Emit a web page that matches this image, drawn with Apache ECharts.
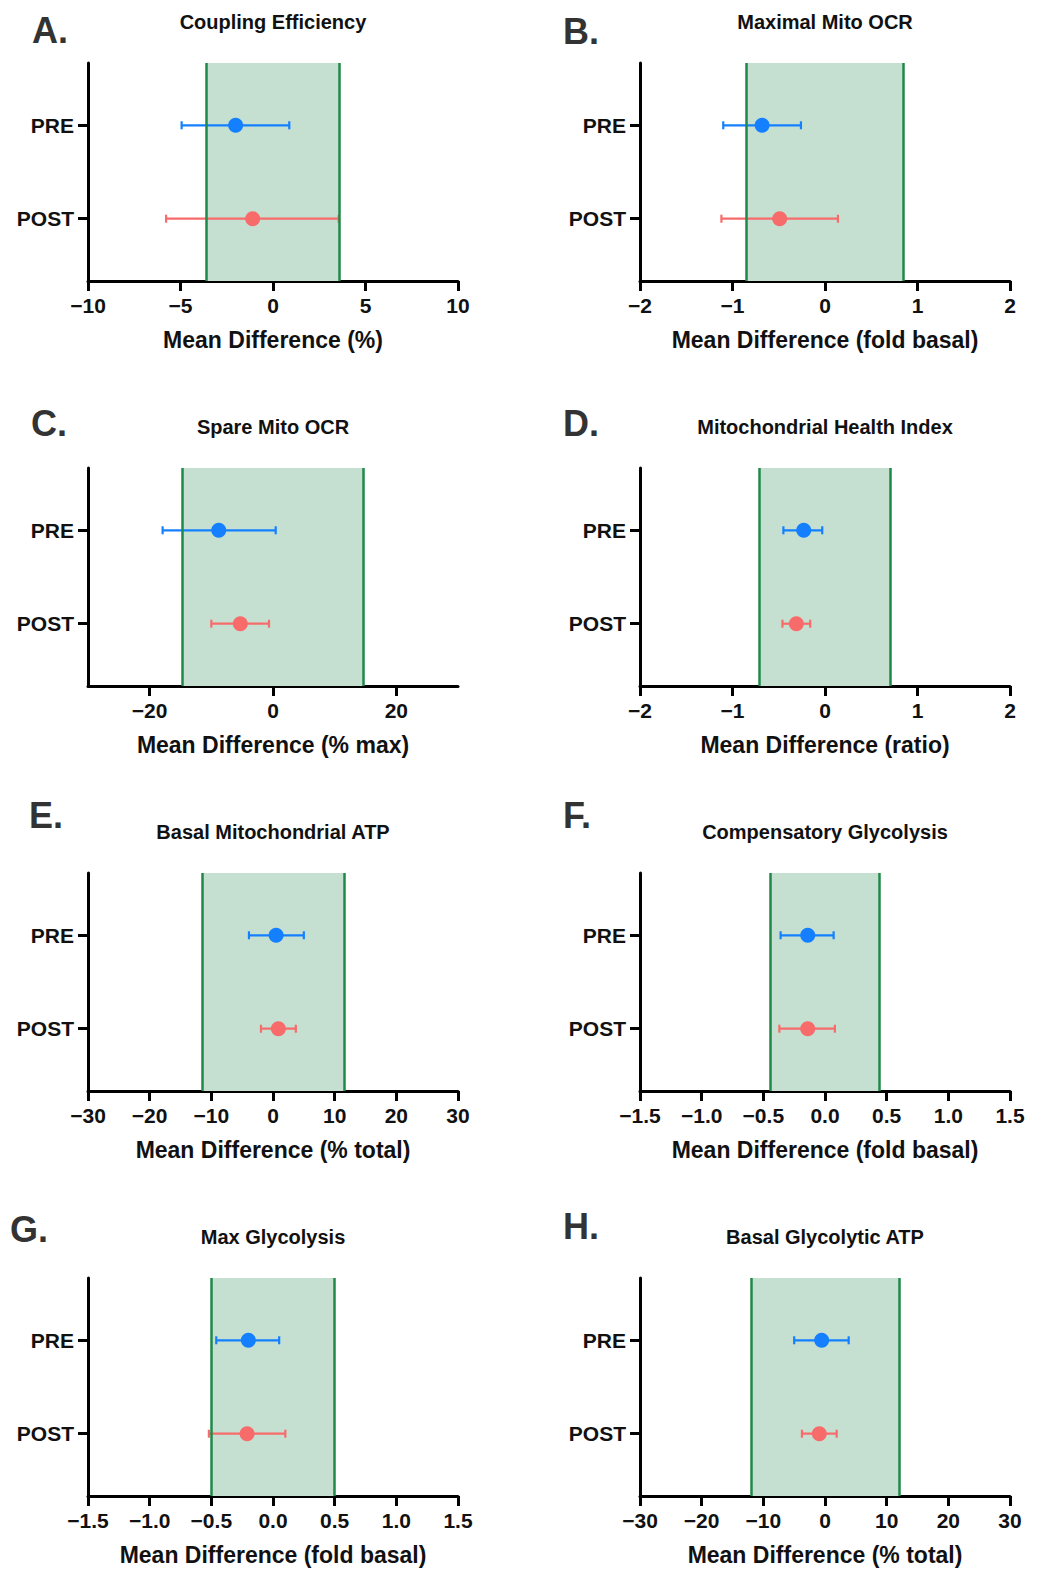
<!DOCTYPE html>
<html>
<head>
<meta charset="UTF-8">
<title>Equivalence plots</title>
<style>
  html,body{margin:0;padding:0;background:#fff;}
  #main{width:1038px;height:1577px;}
</style>
</head>
<body>
<div id="main"></div>
<script src="https://cdn.jsdelivr.net/npm/echarts@6/dist/echarts.min.js"></script>
<script>
// panel data
var letters = ['A.', 'B.', 'C.', 'D.', 'E.', 'F.', 'G.', 'H.'];
var titles = ['Coupling Efficiency', 'Maximal Mito OCR', 'Spare Mito OCR', 'Mitochondrial Health Index',
              'Basal Mitochondrial ATP', 'Compensatory Glycolysis', 'Max Glycolysis', 'Basal Glycolytic ATP'];
var axisNames = ['Mean Difference (%)', 'Mean Difference (fold basal)', 'Mean Difference (% max)', 'Mean Difference (ratio)',
                 'Mean Difference (% total)', 'Mean Difference (fold basal)', 'Mean Difference (fold basal)', 'Mean Difference (% total)'];
var xMin = [-10, -2, -30, -2, -30, -1.5, -1.5, -30];
var xMax = [10, 2, 30, 2, 30, 1.5, 1.5, 30];
var xTicks = [
    [-10, -5, 0, 5, 10],
    [-2, -1, 0, 1, 2],
    [-20, 0, 20],
    [-2, -1, 0, 1, 2],
    [-30, -20, -10, 0, 10, 20, 30],
    [-1.5, -1, -0.5, 0, 0.5, 1, 1.5],
    [-1.5, -1, -0.5, 0, 0.5, 1, 1.5],
    [-30, -20, -10, 0, 10, 20, 30]
];
var tickDecimals = [0, 0, 0, 0, 0, 1, 1, 0];
var bounds = [3.6, 0.85, 14.7, 0.71, 11.5, 0.44, 0.5, 12];

var groups = ['PRE', 'POST'];
var groupY = [2.5, 1];

var preMean  = [-2.02, -0.68, -8.8, -0.23, 0.5, -0.14, -0.2, -0.54];
var preLow   = [-4.94, -1.10, -17.9, -0.45, -3.9, -0.36, -0.46, -5.0];
var preHigh  = [0.88, -0.26, 0.44, -0.03, 5.0, 0.07, 0.05, 3.84];
var postMean = [-1.1, -0.49, -5.3, -0.31, 0.87, -0.14, -0.21, -0.92];
var postLow  = [-5.78, -1.12, -10.0, -0.46, -1.95, -0.37, -0.52, -3.74];
var postHigh = [3.55, 0.14, -0.65, -0.16, 3.7, 0.08, 0.10, 1.89];

var FONT = '"Liberation Sans", Arial, Helvetica, sans-serif';
var BLUE = '#1480FF', RED = '#F86B6B', BAND = '#C5E0D1', EDGE = '#1F8A48';

var colLeft = [88, 640];
var rowTop = [63, 468, 873, 1278];
var letterX = [32, 563, 31, 563, 29, 563, 10, 563];
var letterY = [30, 31, 423, 423, 815, 815, 1229, 1226];

var chart = echarts.init(document.getElementById('main'), null, {renderer: 'svg'});

function fmt(v, d) {
    var s = Math.abs(v).toFixed(d);
    return v < 0 ? '\u2212' + s : s;
}

function renderBar(params, api) {
    var y = api.value(2);
    var a = api.coord([api.value(0), y]);
    var b = api.coord([api.value(1), y]);
    var c = api.value(3) === 0 ? BLUE : RED;
    var st = {stroke: c, lineWidth: 2.2};
    return {type: 'group', children: [
        {type: 'line', shape: {x1: a[0], y1: a[1], x2: b[0], y2: b[1]}, style: st},
        {type: 'line', shape: {x1: a[0], y1: a[1] - 4, x2: a[0], y2: a[1] + 4}, style: st},
        {type: 'line', shape: {x1: b[0], y1: b[1] - 4, x2: b[0], y2: b[1] + 4}, style: st}
    ]};
}

var grids = [], xAxes = [], yAxes = [], series = [], graphics = [];

function addPanel(i) {
    var col = i % 2, row = Math.floor(i / 2);
    var left = colLeft[col], top = rowTop[row];
    grids.push({left: left, top: top, width: 370, height: 218});

    xAxes.push({
        gridIndex: i, type: 'value', min: xMin[i], max: xMax[i],
        name: axisNames[i], nameLocation: 'middle', nameGap: 47,
        nameTextStyle: {fontFamily: FONT, fontWeight: 'bold', fontSize: 23, color: '#111'},
        axisLine: {show: true, onZero: false, lineStyle: {color: '#000', width: 3}},
        axisTick: {show: true, customValues: xTicks[i], length: 10, lineStyle: {color: '#000', width: 3}},
        axisLabel: {customValues: xTicks[i], margin: 14, fontFamily: FONT, fontWeight: 'bold', fontSize: 21, color: '#111',
                    formatter: function (v) { return fmt(v, tickDecimals[i]); }},
        splitLine: {show: false}
    });
    yAxes.push({
        gridIndex: i, type: 'value', min: 0, max: 3.5,
        axisLine: {show: true, onZero: false, lineStyle: {color: '#000', width: 3}},
        axisTick: {show: true, customValues: groupY, length: 10, lineStyle: {color: '#000', width: 3}},
        axisLabel: {customValues: groupY, margin: 14, fontFamily: FONT, fontWeight: 'bold', fontSize: 21, color: '#111',
                    formatter: function (v) { return groups[groupY.indexOf(v)]; }},
        splitLine: {show: false}
    });

    // equivalence band
    series.push({
        type: 'line', xAxisIndex: i, yAxisIndex: i, data: [], z: 1, silent: true,
        markArea: {silent: true, itemStyle: {color: BAND, opacity: 1}, data: [[{xAxis: -bounds[i]}, {xAxis: bounds[i]}]]},
        markLine: {silent: true, symbol: ['none', 'none'], label: {show: false},
                   lineStyle: {color: EDGE, width: 2.5, type: 'solid', opacity: 1},
                   data: [{xAxis: -bounds[i]}, {xAxis: bounds[i]}]}
    });
    // confidence intervals
    series.push({
        type: 'custom', xAxisIndex: i, yAxisIndex: i, z: 3, silent: true,
        renderItem: renderBar, encode: {x: [0, 1], y: 2},
        data: [[preLow[i], preHigh[i], groupY[0], 0], [postLow[i], postHigh[i], groupY[1], 1]]
    });
    // mean differences
    series.push({
        type: 'scatter', xAxisIndex: i, yAxisIndex: i, z: 4, silent: true, symbolSize: 15,
        data: [
            {value: [preMean[i], groupY[0]], itemStyle: {color: BLUE, opacity: 1}},
            {value: [postMean[i], groupY[1]], itemStyle: {color: RED, opacity: 1}}
        ]
    });

    graphics.push({type: 'text', x: left + 185, y: top - 41,
        style: {text: titles[i], font: 'bold 20px ' + FONT, fill: '#111', textAlign: 'center', textVerticalAlign: 'middle'}});
    graphics.push({type: 'text', x: letterX[i], y: letterY[i],
        style: {text: letters[i], font: 'bold 36px ' + FONT, fill: '#333', textAlign: 'left', textVerticalAlign: 'middle'}});
}

for (var i = 0; i < 8; i++) addPanel(i);

chart.setOption({
    animation: false,
    backgroundColor: '#fff',
    grid: grids,
    xAxis: xAxes,
    yAxis: yAxes,
    series: series,
    graphic: graphics
});
</script>
</body>
</html>
